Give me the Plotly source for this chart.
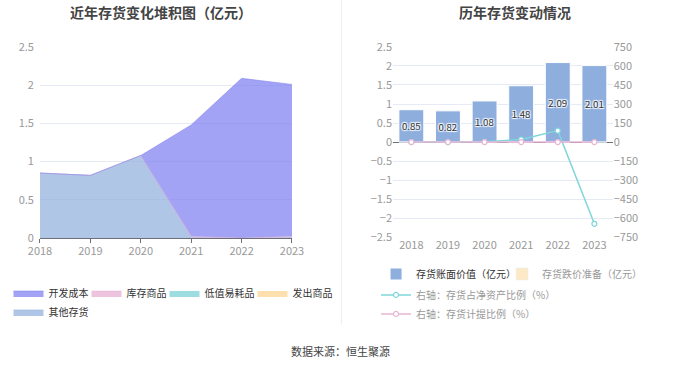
import plotly.graph_objects as go

years = [2018, 2019, 2020, 2021, 2022, 2023]
year_labels = ["2018", "2019", "2020", "2021", "2022", "2023"]

# Left stacked area (亿元)
dev_cost = [0, 0, 0, 1.46, 2.09, 1.99]       # 开发成本
stock_goods = [0, 0, 0, 0.01, 0, 0.01]       # 库存商品
low_value = [0, 0, 0, 0, 0, 0]               # 低值易耗品
shipped = [0, 0, 0, 0, 0, 0]                 # 发出商品
other_inv = [0.85, 0.82, 1.08, 0.01, 0, 0.01]  # 其他存货

# Right chart
book_value = [0.85, 0.82, 1.08, 1.48, 2.09, 2.01]   # 存货账面价值（亿元）
impairment = [0, 0, 0, 0, 0, 0]                     # 存货跌价准备（亿元）
ratio_net_assets = [0, 0, 3, 20, 90, -645]           # 存货占净资产比例（%）
provision_ratio = [0, 0, 0, 0, 0, 0]                 # 存货计提比例（%）

FONT = "Noto Sans CJK SC"
GRAY = "#999999"
GRID = "#e6eaf4"

def grey(s):
    return f"<span style='color:#999999'>{s}</span>"

fig = go.Figure()

# ---- left chart: stacked areas (bottom first)
fig.add_trace(go.Scatter(x=years, y=other_inv, name="其他存货", stackgroup="s", mode="lines",
                         line=dict(width=0.5, color="#8eaedd"), fillcolor="rgba(142,174,221,0.7)",
                         xaxis="x", yaxis="y", legend="legend2", hoverinfo="skip"))
fig.add_trace(go.Scatter(x=years, y=low_value, name="低值易耗品", stackgroup="s", mode="lines",
                         line=dict(width=0, color="#85d5d9"), fillcolor="rgba(133,213,217,0.8)",
                         xaxis="x", yaxis="y", legend="legend", legendrank=3, legendwidth=43,
                         hoverinfo="skip"))
fig.add_trace(go.Scatter(x=years, y=shipped, name="发出商品", stackgroup="s", mode="lines",
                         line=dict(width=0, color="#fcd89a"), fillcolor="rgba(252,216,154,0.8)",
                         xaxis="x", yaxis="y", legend="legend", legendrank=4, hoverinfo="skip"))
fig.add_trace(go.Scatter(x=years, y=stock_goods, name="库存商品", stackgroup="s", mode="lines",
                         line=dict(width=0.5, color="#e8b4d6"), fillcolor="rgba(232,180,214,0.8)",
                         xaxis="x", yaxis="y", legend="legend", legendrank=2, legendwidth=33,
                         hoverinfo="skip"))
fig.add_trace(go.Scatter(x=years, y=dev_cost, name="开发成本", stackgroup="s", mode="lines",
                         line=dict(width=0.5, color="#7b7cf0"), fillcolor="rgba(123,124,240,0.7)",
                         xaxis="x", yaxis="y", legend="legend", legendrank=1, legendwidth=33,
                         hoverinfo="skip"))

# ---- right chart
fig.add_trace(go.Bar(x=year_labels, y=book_value, name="存货账面价值（亿元）",
                     marker=dict(color="#8eaedd", line=dict(color="white", width=1)),
                     text=[f"{v:.2f}" for v in book_value], textposition="inside",
                     insidetextanchor="middle", textangle=0,
                     textfont=dict(color="#333333", size=12, family=FONT,
                                   shadow="1px 1px 1px #fff, -1px -1px 1px #fff, 1px -1px 1px #fff, -1px 1px 1px #fff"),
                     xaxis="x2", yaxis="y2", legend="legend3", legendrank=1, legendwidth=81))
fig.add_trace(go.Bar(x=year_labels, y=impairment, name=grey("存货跌价准备（亿元）"),
                     marker=dict(color="#fde9c6"), xaxis="x2", yaxis="y2", legend="legend3", legendrank=2))
fig.add_trace(go.Scatter(x=year_labels, y=ratio_net_assets, name=grey("右轴：存货占净资产比例（%）"),
                         mode="lines+markers", line=dict(color="#7fd6da", width=1.5),
                         marker=dict(size=5, color="white", line=dict(color="#7fd6da", width=1.2)),
                         xaxis="x2", yaxis="y3", legend="legend4"))
fig.add_trace(go.Scatter(x=year_labels, y=provision_ratio, name=grey("右轴：存货计提比例（%）"),
                         mode="lines+markers", line=dict(color="#e8b4d6", width=1.5),
                         marker=dict(size=5, color="white", line=dict(color="#e8b4d6", width=1.2)),
                         xaxis="x2", yaxis="y3", legend="legend4"))

tickfont = dict(family=FONT, size=11, color=GRAY)
legfont = dict(family=FONT, size=10, color="#333")

fig.update_layout(
    width=680, height=367, margin=dict(l=0, r=0, t=0, b=0, autoexpand=False),
    paper_bgcolor="white", plot_bgcolor="white",
    font=dict(family=FONT, color="#333"),
    showlegend=True, barmode="overlay", bargap=0.32,
    xaxis=dict(domain=[0.0588, 0.4294], range=[2018, 2023], tickvals=years, ticktext=year_labels,
               tickfont=tickfont, showgrid=False, showline=True, linecolor="#6e7079",
               ticks="outside", ticklen=4, tickcolor="#6e7079", zeroline=False, fixedrange=True,
               ticklabelstandoff=-1),
    yaxis=dict(domain=[0.3515, 0.872], range=[0, 2.5], dtick=0.5, tickfont=tickfont,
               gridcolor=GRID, zeroline=False, showline=False, tickformat="~g",
               ticklabelstandoff=5),
    xaxis2=dict(domain=[0.578, 0.901], tickfont=tickfont, showgrid=False, showline=False,
                anchor="y2", ticks="", type="category"),
    yaxis2=dict(domain=[0.354, 0.872], range=[-2.5, 2.5], dtick=0.5, tickfont=tickfont,
                gridcolor=GRID, zeroline=True, zerolinecolor="#6e7079", zerolinewidth=1,
                anchor="x2", tickformat="~g"),
    yaxis3=dict(overlaying="y2", side="right", range=[-750, 750], dtick=150, tickfont=tickfont,
                showgrid=False, zeroline=False, anchor="x2"),
    legend=dict(orientation="h", x=0.0125, y=0.2016, xanchor="left", yanchor="middle",
                font=legfont, traceorder="normal", bgcolor="rgba(0,0,0,0)"),
    legend2=dict(orientation="h", x=0.0125, y=0.150, xanchor="left", yanchor="middle",
                 font=legfont, bgcolor="rgba(0,0,0,0)"),
    legend3=dict(orientation="h", x=0.553, y=0.2534, xanchor="left", yanchor="middle",
                 font=legfont, traceorder="normal", bgcolor="rgba(0,0,0,0)"),
    legend4=dict(orientation="v", x=0.553, y=0.236, xanchor="left", yanchor="top",
                 font=legfont, traceorder="normal", bgcolor="rgba(0,0,0,0)"),
    annotations=[
        dict(text="<b>近年存货变化堆积图（亿元）</b>", x=0.237, y=0.967, xref="paper", yref="paper",
             xanchor="center", yanchor="middle",
             showarrow=False, font=dict(size=14, color="#444", family=FONT)),
        dict(text="<b>历年存货变动情况</b>", x=0.757, y=0.967, xref="paper", yref="paper",
             xanchor="center", yanchor="middle",
             showarrow=False, font=dict(size=14, color="#444", family=FONT)),
        dict(text="数据来源：恒生聚源", x=0.5, y=0.043, xref="paper", yref="paper",
             xanchor="center", yanchor="middle",
             showarrow=False, font=dict(size=11, color="#444", family=FONT)),
    ],
    shapes=[dict(type="line", xref="paper", yref="paper", x0=0.502, x1=0.502, y0=0.115, y1=1,
                 line=dict(color="#eeeeee", width=1))],
)

fig.write_html("out.html", post_script="document.body.style.margin='0px';",
               config={"displayModeBar": False})
